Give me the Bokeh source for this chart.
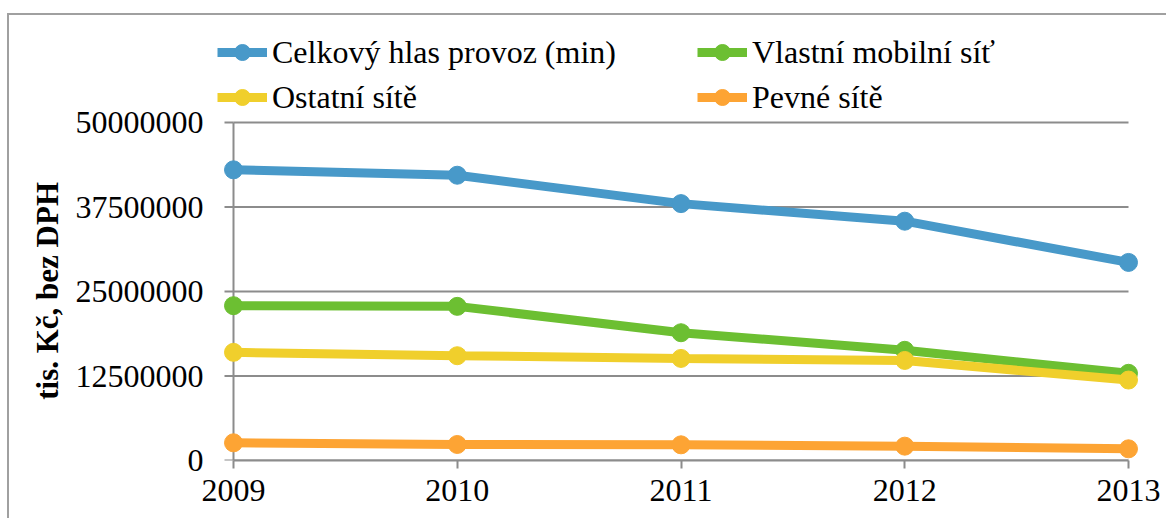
from bokeh.plotting import figure
from bokeh.models import Range1d, FixedTicker, Legend, LegendItem
from bokeh.embed import file_html
from bokeh.resources import INLINE

years = [2009, 2010, 2011, 2012, 2013]
year_labels = ["2009", "2010", "2011", "2012", "2013"]
celkovy = [43.0e6, 42.2e6, 38.0e6, 35.4e6, 29.3e6]
vlastni = [22.9e6, 22.8e6, 18.9e6, 16.3e6, 12.9e6]
ostatni = [16.0e6, 15.5e6, 15.1e6, 14.8e6, 11.9e6]
pevne = [2.62e6, 2.37e6, 2.32e6, 2.12e6, 1.73e6]
y_ticks = [0, 12500000, 25000000, 37500000, 50000000]
y_tick_labels = ["0", "12500000", "25000000", "37500000", "50000000"]
y_title = "tis. Kč, bez DPH"

series = [
    ("Celkový hlas provoz (min)", celkovy, "#4899c9"),
    ("Vlastní mobilní síť", vlastni, "#6cbf32"),
    ("Ostatní sítě", ostatni, "#f0cf2c"),
    ("Pevné sítě", pevne, "#fda434"),
]

FONT = "Liberation Serif"
GRAY = "#8c8c8c"

px = 4 / 895.0                      # one pixel in x data units
py = y_ticks[-1] / 338.0            # one pixel in y data units
p = figure(width=1166, height=518, output_backend="svg", toolbar_location=None,
           x_range=Range1d(years[0] - 16 * px, years[-1] + 10 * px),
           y_range=Range1d(0, 440 * py),
           min_border_left=217, min_border_right=28, min_border_top=20,
           min_border_bottom=58,
           styles={"box-shadow": "inset 7px 13px 0 0 #ffffff, inset 9px 15px 0 0 #a0a0a0"})
p.outline_line_color = None
p.border_fill_alpha = 0
p.background_fill_alpha = 0
p.xgrid.visible = False
p.ygrid.visible = False

n = len(y_ticks)
# horizontal gridlines spanning the year range
p.segment(x0=[years[0]] * n, x1=[years[-1]] * n, y0=y_ticks, y1=y_ticks,
          line_color=GRAY, line_width=2)
# y axis line and outward ticks at the first year
p.segment(x0=[years[0]], x1=[years[0]], y0=[y_ticks[0]], y1=[y_ticks[-1]],
          line_color=GRAY, line_width=2)
p.segment(x0=[years[0] - 9 * px] * n, x1=[years[0]] * n, y0=y_ticks, y1=y_ticks,
          line_color=GRAY, line_width=2)

items = []
for name, vals, col in series:
    l = p.line(years, vals, line_color=col, line_width=9)
    s = p.scatter(years, vals, size=18, fill_color=col, line_color=col)
    items.append(LegendItem(label=name, renderers=[l, s]))

# x axis
xa = p.xaxis[0]
xa.ticker = FixedTicker(ticks=years)
xa.major_label_overrides = {y: t for y, t in zip(years, year_labels)}
xa.bounds = (years[0], years[-1])
xa.axis_line_color = GRAY
xa.axis_line_width = 2
xa.major_tick_line_color = GRAY
xa.major_tick_line_width = 2
xa.major_tick_out = 8
xa.major_tick_in = 0
xa.minor_tick_line_color = None
xa.major_label_text_font = FONT
xa.major_label_text_font_size = "32px"
xa.major_label_text_color = "black"
xa.major_label_standoff = 11

# y axis (labels only; line and ticks drawn at the first year)
ya = p.yaxis[0]
ya.ticker = FixedTicker(ticks=y_ticks)
ya.bounds = (y_ticks[0], y_ticks[-1])
ya.major_label_overrides = {v: t for v, t in zip(y_ticks, y_tick_labels)}
ya.axis_line_color = None
ya.major_tick_line_color = None
ya.minor_tick_line_color = None
ya.major_tick_out = 0
ya.major_tick_in = 0
ya.major_label_text_font = FONT
ya.major_label_text_font_size = "32px"
ya.major_label_text_color = "black"
ya.major_label_standoff = 14
# the axis title is centred on the whole frame; trailing no-break spaces move
# the visible words down to the middle of the value range
ya.axis_label = y_title + "\u00a0" * 13
ya.axis_label_text_font = FONT
ya.axis_label_text_font_style = "bold"
ya.axis_label_text_font_size = "31px"
ya.axis_label_text_color = "black"
ya.axis_label_standoff = 8

legend = Legend(items=items, location=(0, 343), orientation="horizontal", nrows=2,
                glyph_width=50, glyph_height=40, label_height=40, label_width=420,
                label_standoff=5, spacing=5, padding=0, margin=0,
                border_line_color=None, background_fill_alpha=0,
                label_text_font=FONT, label_text_font_size="32px",
                label_text_color="black")
p.add_layout(legend, "center")

open("out.html", "w").write(file_html(p, INLINE))
